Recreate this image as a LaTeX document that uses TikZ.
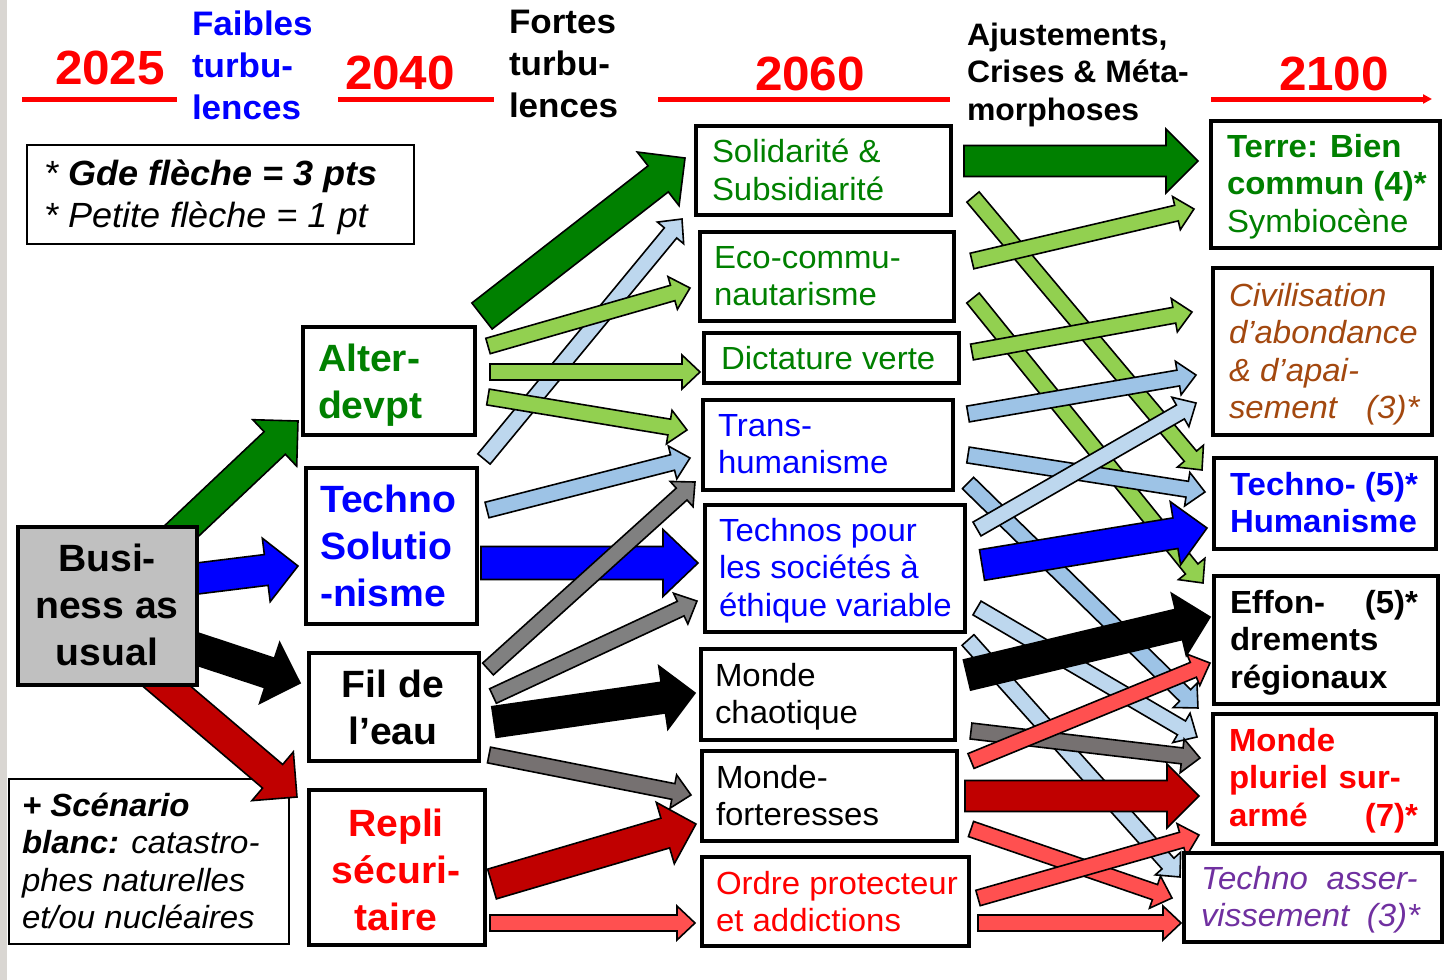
\documentclass[tikz,border=0pt]{standalone}
\usepackage{fontspec}
\setmainfont[FakeStretch=1.03]{Liberation Sans}
\usetikzlibrary{arrows.meta}
\definecolor{dgreen}{HTML}{008000}
\definecolor{lgreen}{HTML}{92D050}
\definecolor{lblue}{HTML}{BDD7EE}
\definecolor{mblue}{HTML}{9DC3E6}
\definecolor{pblue}{HTML}{0000FF}
\definecolor{grayA}{HTML}{808080}
\definecolor{grayB}{HTML}{767171}
\definecolor{dred}{HTML}{C00000}
\definecolor{lred}{HTML}{FF5050}
\definecolor{tred}{HTML}{FF0000}
\definecolor{brownA}{HTML}{A3480F}
\definecolor{purp}{HTML}{7030A0}
\definecolor{bgray}{HTML}{C0C0C0}
\definecolor{stripgray}{HTML}{D9D6D2}
\newcommand\fsz[2]{\fontsize{#1pt}{#2pt}\selectfont}
% block arrow: color, x1, y1, x2, y2, shaft half, head half, head length
\newcommand\blk[8]{%
  \pgfmathsetmacro\bkang{atan2((#3)-(#5),(#4)-(#2))}%
  \pgfmathsetmacro\bklen{veclen((#4)-(#2),(#5)-(#3))}%
  \pgfmathsetmacro\bkbase{\bklen-#8}%
  \draw[arr,fill=#1,shift={(#2,#3)},rotate=\bkang]
    (0,-#6) -- (\bkbase,-#6) -- (\bkbase,-#7) -- (\bklen,0) -- (\bkbase,#7) -- (\bkbase,#6) -- (0,#6) -- cycle;}
\newcommand\bigarr[5]{\blk{#1}{#2}{#3}{#4}{#5}{15.5}{32}{32}}
\newcommand\smarr[5]{\blk{#1}{#2}{#3}{#4}{#5}{8}{17}{18}}
\tikzset{
  arr/.style={draw=black, line width=1.6pt, line join=miter, miter limit=10},
  bx/.style={draw=black, line width=3.5pt, fill=white, inner sep=0pt, outer sep=0pt, anchor=north west},
  thinbx/.style={draw=black, line width=1.3pt, fill=white, inner sep=0pt, outer sep=0pt, anchor=north west},
  txt/.style={inner sep=0pt, outer sep=0pt, anchor=north west, align=left},
  ctxt/.style={inner sep=0pt, outer sep=0pt, anchor=north, align=center},
  yr/.style={inner sep=0pt, anchor=base, text=tred, font=\fsz{48}{55}\bfseries},
  tl/.style={draw=tred, line width=5pt},
  hd/.style={txt, font=\fsz{34}{42}\bfseries},
  f32/.style={font=\fsz{32}{37.5}},
  f38/.style={font=\fsz{38}{47}\bfseries},
}
\begin{document}
\begin{tikzpicture}[x=1pt,y=-1pt]
\useasboundingbox (0,0) rectangle (1444,980);
\fill[white] (0,0) rectangle (1444,980);
\fill[stripgray] (0,0) rectangle (7,980);

% ---------- timeline ----------
\coordinate (ta1) at (22,99);   \coordinate (tb1) at (177,99);
\coordinate (ta2) at (338,99);  \coordinate (tb2) at (494,99);
\coordinate (ta3) at (658,99);  \coordinate (tb3) at (950,99);
\coordinate (ta4) at (1211,99); \coordinate (tb4) at (1432,99);
\draw[tl] (ta1) -- (tb1);
\draw[tl] (ta2) -- (tb2);
\draw[tl] (ta3) -- (tb3);
\draw[tl, -{Triangle[length=9pt,width=9pt]}] (ta4) -- (tb4);
\node[yr] (y2025) at (110,84) {2025};
\node[yr] (y2040) at (400,89) {2040};
\node[yr] (y2060) at (810,90) {2060};
\node[yr] (y2100) at (1334,90) {2100};
\node[hd, text=pblue] (faib) at (192,10.5) {Faibles\\turbu-\\lences};
\node[hd] (fort) at (509,10.5) {Fortes\\turbu-\\lences};
\node[txt, font=\fsz{31}{37.5}\bfseries] (ajus) at (967,22.7) {Ajustements,\\Crises \& Méta-\\morphoses};

% ---------- legend boxes ----------
\node[thinbx, minimum width=387pt, minimum height=99pt] (leg) at (27,145) {};
\node[txt, font=\fsz{35}{42}\itshape] (legt) at (44,159.8) {* \textbf{Gde flèche = 3 pts}\\* Petite flèche = 1 pt};
\node[thinbx, minimum width=280pt, minimum height=165pt] (scen) at (9,779) {};
\node[txt, font=\fsz{32}{37.5}\itshape] (scent) at (22,793) {\textbf{+ Scénario}\\\textbf{blanc:} catastro-\\phes naturelles\\et/ou nucléaires};

% ---------- arrows Business -> 2040 ----------
\bigarr{dgreen}{172}{540}{298}{421}
\bigarr{pblue}{185}{580}{298}{566}
\bigarr{black}{185}{645}{300}{683}
\bigarr{dred}{150}{672}{297}{797}

% ---------- arrows 2040 -> 2060 ----------
\smarr{lblue}{484}{459}{682}{219}
\smarr{lgreen}{488}{346}{690}{288}
\smarr{lgreen}{490}{372}{700}{372}
\smarr{lgreen}{488}{397}{687}{430}
\smarr{mblue}{487}{510}{690}{458}
\blk{dgreen}{482}{316}{685}{158}{16.5}{34}{34}
\blk{pblue}{481}{563}{698}{563}{16.5}{33.5}{35}
\smarr{grayA}{488}{669}{695}{482}
\smarr{grayA}{493}{696}{697}{601}
\bigarr{black}{494}{722}{695}{693}
\smarr{grayB}{489}{755}{691}{795}
\bigarr{dred}{492}{884}{696}{824}
\smarr{lred}{490}{923}{695}{923}

% ---------- arrows 2060 -> 2100 ----------
\smarr{lgreen}{973}{197}{1202}{470}
\smarr{lgreen}{973}{298}{1203}{583}
\smarr{mblue}{968}{483}{1198}{708}
\smarr{lblue}{977}{608}{1197}{737}
\smarr{lblue}{968}{640}{1180}{877}
\bigarr{dgreen}{964}{161}{1198}{161}
\smarr{lgreen}{972}{261}{1194}{209}
\smarr{lgreen}{972}{352}{1192}{312}
\smarr{mblue}{968}{414}{1196}{375}
\smarr{mblue}{968}{455}{1205}{492}
\smarr{lblue}{977}{529}{1196}{403}
\bigarr{pblue}{982}{565}{1207}{528}
\bigarr{black}{967}{675}{1210}{617}
\smarr{grayB}{971}{731}{1200}{758}
\smarr{lred}{971}{761}{1210}{663}
\bigarr{dred}{965}{796}{1199}{796}
\smarr{lred}{971}{829}{1172}{898}
\smarr{lred}{978}{898}{1199}{835}
\smarr{lred}{978}{923}{1181}{923}

% ---------- Business as usual ----------
\node[bx, line width=4pt, fill=bgray, minimum width=179pt, minimum height=158pt] (bau) at (18,527) {};
\node[ctxt, f38] (baut) at (107,543.6) {Busi-\\ness as\\usual};

% ---------- 2040 boxes ----------
\node[bx, minimum width=172pt, minimum height=108pt] (alter) at (303,327) {};
\node[txt, f38, text=dgreen] (altert) at (318,343.6) {Alter-\\devpt};
\node[bx, minimum width=171pt, minimum height=156pt] (tsol) at (306,468) {};
\node[txt, f38, text=pblue] (tsolt) at (320,484.6) {Techno\\Solutio\\-nisme};
\node[bx, minimum width=170pt, minimum height=108pt] (fil) at (309,653) {};
\node[ctxt, f38] (filt) at (393,669.6) {Fil de\\l’eau};
\node[bx, minimum width=176pt, minimum height=155pt] (repli) at (309,790) {};
\node[ctxt, f38, text=tred] (replit) at (396,808.6) {Repli\\sécuri-\\taire};

% ---------- 2060 boxes ----------
\node[bx, minimum width=255pt, minimum height=89pt] (sol) at (696,126) {};
\node[txt, f32, text=dgreen] (solt) at (712,139) {Solidarité \&\\Subsidiarité};
\node[bx, minimum width=254pt, minimum height=89pt] (eco) at (700,232) {};
\node[txt, f32, text=dgreen] (ecot) at (714,246) {Eco-commu-\\nautarisme};
\node[bx, minimum width=255pt, minimum height=50pt] (dict) at (704,333) {};
\node[txt, f32, text=dgreen] (dictt) at (721,346) {Dictature verte};
\node[bx, minimum width=250pt, minimum height=90pt] (trans) at (703,400) {};
\node[txt, f32, text=pblue] (transt) at (718,414) {Trans-\\humanisme};
\node[bx, minimum width=260pt, minimum height=127pt] (tech) at (705,505) {};
\node[txt, f32, text=pblue] (techt) at (719,518) {Technos pour\\les sociétés à\\éthique variable};
\node[bx, minimum width=254pt, minimum height=91pt] (chao) at (701,649) {};
\node[txt, f32] (chaot) at (715,663) {Monde\\chaotique};
\node[bx, minimum width=255pt, minimum height=90pt] (fortr) at (702,751) {};
\node[txt, f32] (fortrt) at (716,765) {Monde-\\forteresses};
\node[bx, minimum width=267pt, minimum height=89pt] (ordre) at (702,857) {};
\node[txt, f32, text=tred] (ordret) at (716,871) {Ordre protecteur\\et addictions};

% ---------- 2100 boxes ----------
\node[bx, minimum width=229pt, minimum height=127pt] (terre) at (1211,121) {};
\node[txt, f32, text=dgreen] (terret) at (1227,134) {\textbf{Terre: Bien}\\\textbf{commun (4)*}\\Symbiocène};
\node[bx, minimum width=219pt, minimum height=167pt] (civ) at (1213,268) {};
\node[txt, font=\fsz{32}{37.5}\itshape, text=brownA] (civt) at (1229,283) {Civilisation\\d’abondance\\\& d’apai-\\sement\hspace{20pt} (3)*};
\node[bx, minimum width=222pt, minimum height=91pt] (thum) at (1214,458) {};
\node[txt, font=\fsz{32}{37.5}\bfseries, text=pblue] (thumt) at (1230,472) {Techno- (5)*\\Humanisme};
\node[bx, minimum width=224pt, minimum height=128pt] (effon) at (1214,576) {};
\node[txt, font=\fsz{32}{37.5}\bfseries, text width=188pt] (effont) at (1230,590) {Effon-\hfill(5)*\\drements\\régionaux};
\node[bx, minimum width=223pt, minimum height=130pt] (mplu) at (1213,714) {};
\node[txt, font=\fsz{32}{37.5}\bfseries, text=tred, text width=189pt] (mplut) at (1229,728) {Monde\\pluriel sur-\\armé\hfill(7)*};
\node[bx, minimum width=258pt, minimum height=89pt] (tass) at (1184,853) {};
\node[txt, font=\fsz{32}{37.5}\itshape, text=purp, text width=219pt] (tasst) at (1201,866) {Techno\hspace{8pt} asser-\\vissement\hfill(3)*};
\end{tikzpicture}
\end{document}
